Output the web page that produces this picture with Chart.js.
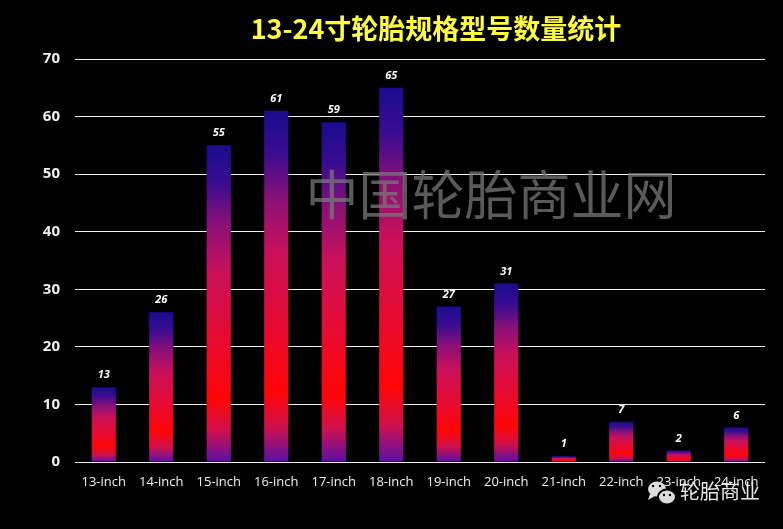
<!DOCTYPE html>
<html><head><meta charset="utf-8">
<script src="https://cdn.jsdelivr.net/npm/chart.js@4/dist/chart.umd.min.js"></script>
<style>html,body{margin:0;padding:0;background:#000;}#wrap{width:783px;height:529px;}</style>
</head><body><div id="wrap"><canvas id="c" width="783" height="529"></canvas></div>
<script>
const categories = ["13-inch","14-inch","15-inch","16-inch","17-inch","18-inch","19-inch","20-inch","21-inch","22-inch","23-inch","24-inch"];
const counts = [13,26,55,61,59,65,27,31,1,7,2,6];
const yTicks = [0,10,20,30,40,50,60,70];
const titleText = "13-24寸轮胎规格型号数量统计";
const watermarkText = "中国轮胎商业网";
const logoText = "轮胎商业";

function barGradient(ctx){
  const chart = ctx.chart;
  if(!chart.chartArea || !chart.scales.y) return '#ff0000';
  const y = chart.scales.y;
  const v = ctx.raw;
  const top = y.getPixelForValue(v), bot = y.getPixelForValue(0);
  if(!isFinite(top) || bot - top < 1) return '#ff0000';
  const g = chart.ctx.createLinearGradient(0, top, 0, bot);
  g.addColorStop(0, '#1a0c8e');
  g.addColorStop(0.12, '#3a0c90');
  g.addColorStop(0.25, '#8a1078');
  g.addColorStop(0.4, '#c8105a');
  g.addColorStop(0.62, '#e80a30');
  g.addColorStop(0.8, '#ff0505');
  g.addColorStop(0.9, '#d0104c');
  g.addColorStop(1, '#5a10a8');
  return g;
}

const deco = {
  id:'deco',
  beforeDraw(chart){
    const c = chart.ctx;
    c.save(); c.fillStyle='#000'; c.fillRect(0,0,chart.width,chart.height); c.restore();
  },
  afterDatasetsDraw(chart){
    const c = chart.ctx;
    const meta = chart.getDatasetMeta(0);
    c.save();
    c.fillStyle='#ffffff';
    c.font='italic bold 11px "Open Sans", sans-serif';
    c.textAlign='center'; c.textBaseline='middle';
    meta.data.forEach((el,i)=>{ c.fillText(String(counts[i]), el.x, el.y-12); });
    c.restore();
  },
  afterDraw(chart){
    const c = chart.ctx;
    c.save();
    c.fillStyle='#ffff3c';
    c.font='bold 27px "Noto Sans CJK SC", sans-serif';
    c.textAlign='center'; c.textBaseline='middle';
    c.fillText(titleText, 436, 29);
    c.fillStyle='rgba(120,120,120,0.75)';
    c.font='53px "Noto Sans CJK SC", sans-serif';
    c.fillText(watermarkText, 491, 195);
    c.fillStyle='#dcdcdc';
    c.beginPath(); c.ellipse(657,489,9,7.5,0,0,Math.PI*2); c.fill();
    c.beginPath(); c.moveTo(650,494); c.lineTo(648,500); c.lineTo(655,496); c.fill();
    c.strokeStyle='#000'; c.lineWidth=2;
    c.beginPath(); c.ellipse(667,497,9,7.5,0,0,Math.PI*2); c.fill(); c.stroke();
    c.fillStyle='#000';
    [[653,486],[660,486],[664,495],[670,495]].forEach(p=>{c.beginPath();c.arc(p[0],p[1],1.2,0,Math.PI*2);c.fill();});
    c.fillStyle='#e8e8e8';
    c.font='20px "Noto Sans CJK SC", sans-serif';
    c.textAlign='left';
    c.fillText(logoText, 680, 491);
    c.restore();
  }
};

new Chart(document.getElementById('c'), {
  type:'bar',
  data:{ labels:categories, datasets:[{ data:counts, backgroundColor:barGradient, borderWidth:0, barPercentage:0.42, categoryPercentage:1 }]},
  options:{
    responsive:false, animation:false,
    layout:{ padding:{ top:59, right:18, bottom:0, left:0 } },
    plugins:{ legend:{display:false}, title:{display:false}, tooltip:{enabled:false} },
    scales:{
      x:{
        grid:{ display:false, drawTicks:false },
        border:{ display:false },
        ticks:{ color:'#f0f0f0', font:{ family:'"Open Sans", sans-serif', size:13 }, padding:12, maxRotation:0, autoSkip:false },
        afterFit(s){ s.height = 67; }
      },
      y:{
        min:0, max:70,
        afterBuildTicks(s){ s.ticks = yTicks.map(v=>({value:v})); },
        grid:{ color:'#f0f0f0', lineWidth:1, drawTicks:false },
        border:{ display:false },
        ticks:{ color:'#f0f0f0', font:{ family:'"Open Sans", sans-serif', size:15, weight:'bold' }, padding:15 },
        afterFit(s){ s.width = 75; }
      }
    }
  },
  plugins:[deco]
});
</script></body></html>
